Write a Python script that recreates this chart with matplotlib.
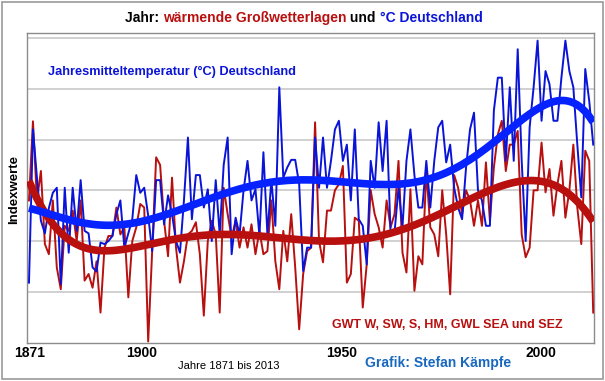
import numpy as np
import matplotlib
matplotlib.use('Agg')
import matplotlib.pyplot as plt

years = np.arange(1871, 2014)

temp_de = [1.18, 4.2, 3.25, 2.4, 2.15, 2.65, 2.95, 3.05, 1.15, 3.05, 1.77, 3.05, 2.2, 3.2, 2.2,
           2.15, 1.48, 1.4, 1.97, 1.94, 2.0, 2.1, 2.53, 2.8, 1.87, 2.15, 2.43, 3.3, 2.95, 3.05,
           2.5, 1.8, 3.2, 3.2, 2.33, 2.9, 2.53, 2.0, 1.77, 2.8, 4.04, 2.43, 3.3, 3.3, 2.66,
           3.02, 2.0, 3.2, 2.13, 3.5, 4.04, 1.74, 2.46, 2.13, 3.0, 3.58, 2.8, 3.02, 2.1,
           3.75, 2.13, 3.2, 2.3, 5.03, 3.25, 3.45, 3.6, 3.6, 3.12, 1.41, 1.87, 1.87, 4.04, 3.05,
           4.04, 3.05, 3.58, 4.2, 4.37, 3.58, 3.9, 2.8, 4.2, 2.43, 2.3, 1.54, 3.58, 3.05,
           4.34, 3.38, 4.37, 2.17, 2.17, 3.05, 2.27, 3.58, 4.2, 3.3, 2.66, 2.66, 3.58, 2.66, 3.58,
           4.24, 4.37, 3.55, 3.9, 3.05, 2.66, 2.43, 3.45, 4.2, 4.53, 3.0, 2.8, 2.3, 2.3,
           4.57, 5.22, 5.22, 3.58, 5.03, 3.58, 5.78, 3.58, 2.0, 4.24, 5.03, 5.95, 4.37, 5.35,
           5.09, 4.37, 4.37, 5.22, 5.95, 5.35, 5.03, 3.9, 2.86, 5.39, 4.76, 3.9]

gwt_warm = [2.8, 4.36, 2.8, 3.38, 1.94, 1.74, 2.8, 1.48, 1.05, 2.3, 2.2, 2.6, 2.0, 2.8, 1.22,
            1.35, 1.08, 1.6, 0.59, 1.87, 2.1, 2.1, 2.66, 2.13, 2.27, 0.89, 2.0, 2.27, 2.73, 2.66,
            0.02, 1.8, 3.65, 3.5, 2.4, 1.7, 3.25, 1.87, 1.18, 1.6, 2.13, 2.2, 2.37, 1.74, 0.53,
            2.0, 2.4, 2.13, 0.59, 3.05, 2.53, 2.07, 2.4, 1.87, 2.27, 1.87, 2.33, 1.74, 2.2,
            1.74, 1.8, 2.8, 1.6, 1.05, 2.2, 1.6, 2.53, 1.48, 0.26, 1.35, 1.8, 1.87, 4.34, 2.0,
            1.58, 2.6, 2.6, 3.0, 3.12, 3.48, 1.18, 1.35, 2.46, 2.4, 0.69, 1.54, 3.0, 2.53,
            2.27, 1.87, 2.8, 2.27, 2.53, 3.58, 1.77, 1.38, 3.02, 1.02, 1.7, 1.54, 3.38, 2.27, 2.13,
            1.7, 3.0, 2.13, 0.95, 3.3, 3.05, 2.53, 3.0, 2.8, 2.3, 2.8, 2.3, 3.55, 2.4,
            3.45, 4.1, 4.37, 3.38, 3.9, 3.9, 4.17, 2.13, 1.68, 1.87, 3.0, 3.0, 3.94, 2.96,
            3.42, 2.5, 3.12, 3.58, 2.46, 3.0, 3.9, 2.66, 1.94, 3.78, 3.58, 0.59]

tick_years = [1871, 1900, 1950, 2000]

BLUE = '#0a14d8'
RED = '#b80f0f'

# polynomial trends (6th order), like the spreadsheet trendlines
xs = (years - years.mean()) / 50.0
trend_t = np.polyval(np.polyfit(xs, temp_de, 6), xs)
trend_g = np.polyval(np.polyfit(xs, gwt_warm, 6), xs)

W, H = 605, 381
fig = plt.figure(figsize=(W / 100, H / 100), dpi=100)
ax = fig.add_axes([27 / W, 1 - 342.5 / H, 567 / W, 309.5 / H])

ax.plot(years, gwt_warm, color=RED, lw=1.4, zorder=3)
ax.plot(years, temp_de, color=BLUE, lw=1.4, zorder=4)
ax.plot(years, trend_g, color=RED, lw=5.5, zorder=5, solid_capstyle='butt')
ax.plot(years, trend_t, color='#0522ff', lw=5.5, zorder=6, solid_capstyle='butt')

ax.set_xlim(1870.5, 2013.2)
ax.set_ylim(0, 6.1)
ax.set_yticks(range(1, 7))
ax.set_yticklabels([])
ax.yaxis.grid(True, color='#c8c8c8', lw=1.2)
ax.tick_params(length=0)
ax.set_xticks(tick_years)
ax.set_xticklabels([])
for s in ax.spines.values():
    s.set_color('#8c8c8c')
    s.set_linewidth(1.0)

for yr, px in zip(tick_years, [30, 142, 342, 541]):
    fig.text(px / W, 1 - 353 / H, str(yr), ha='center', va='center',
             fontsize=10, fontweight='bold', family='Liberation Sans')

fig.text(14 / W, 1 - 189 / H, 'Indexwerte', rotation=90, ha='center', va='center',
         fontsize=9.5, fontweight='bold', family='Liberation Sans')
fig.text(229 / W, 1 - 366 / H, 'Jahre 1871 bis 2013', ha='center', va='center',
         fontsize=8, family='Liberation Sans')
fig.text(438 / W, 1 - 363 / H, 'Grafik: Stefan Kämpfe', ha='center', va='center',
         fontsize=10, fontweight='bold', color='#1868c0', family='Liberation Sans')
fig.text(48 / W, 1 - 72 / H, 'Jahresmitteltemperatur (°C) Deutschland', ha='left', va='center',
         fontsize=9.2, fontweight='bold', color=BLUE, family='Liberation Sans')
fig.text(332 / W, 1 - 325 / H, 'GWT W, SW, S, HM, GWL SEA und SEZ', ha='left', va='center',
         fontsize=9.0, fontweight='bold', color=RED, family='Liberation Sans')

# multi-coloured title, pieces placed one after another
parts = [('Jahr: ', 'black'), ('wärmende Großwetterlagen', RED), (' und ', 'black'),
         ('°C Deutschland', BLUE)]
renderer = fig.canvas.get_renderer()
texts = []
total = 0
for s, c in parts:
    t = fig.text(0, 1 - 18 / H, s, color=c, fontsize=10, fontweight='bold', va='center',
                 family='Liberation Sans')
    w = t.get_window_extent(renderer).width
    texts.append((t, w))
    total += w
x = (W - total) / 2 + 1
for t, w in texts:
    t.set_x(x / W)
    x += w

# outer frame
fig.patches.append(plt.Rectangle((2 / W, 2 / H), 1 - 4 / W, 1 - 4 / H, transform=fig.transFigure,
                                 fill=False, edgecolor='#9a9a9a', lw=1.2))

fig.savefig('out.png', dpi=100)
